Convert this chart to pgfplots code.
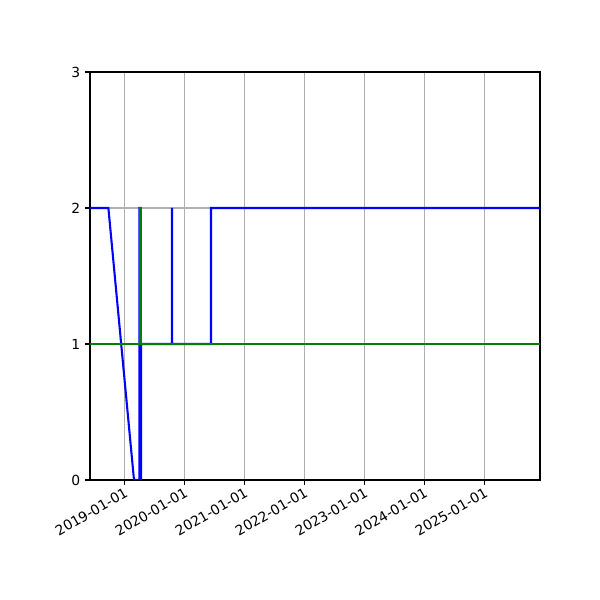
\documentclass[border=0pt]{standalone}
\usepackage{fontspec}
\setmainfont{DejaVu Sans}
\usepackage{pgfplots}
\pgfplotsset{compat=1.18}
\definecolor{mplblue}{rgb}{0,0,1}
\definecolor{mplgreen}{rgb}{0,0.5,0}
\definecolor{gridgray}{RGB}{176,176,176}

% x values are days counted from 2019-01-01
\begin{document}
\begin{tikzpicture}
\begin{axis}[
    scale only axis,
    width=324pt, height=293.76pt,
    xmin=-209, xmax=2532,
    ymin=0, ymax=3,
    ytick={0,1,2,3},
    xtick={0,365,731,1096,1461,1826,2192},
    xticklabels={2019-01-01,2020-01-01,2021-01-01,2022-01-01,2023-01-01,2024-01-01,2025-01-01},
    x tick label style={rotate=30, anchor=north east, inner sep=1pt},
    tick align=outside,
    xtick pos=bottom, ytick pos=left,
    major tick length=3.5pt,
    tick style={black, line width=0.8pt},
    axis line style={line width=0.8pt},
    grid=major,
    grid style={gridgray, line width=0.8pt},
    tick label style={font=\fontsize{10}{12}\selectfont},
    /pgf/number format/assume math mode=true,
]
\addplot[mplblue, line width=1.5pt] coordinates {
  (-209,2) (-97,2) (59,0) (92.5,0) (92.5,2) (98.5,2) (98.5,0) (101.5,0) (101.5,1)
  (290.5,1) (290.5,2) (290.5,1) (528,1) (528,2) (2532,2)
};
\addplot[mplgreen, line width=1.5pt] coordinates {
  (-209,1) (98.5,1) (98.5,2) (100,2) (100,1) (2532,1)
};
\end{axis}
\path ([xshift=-64.8pt,yshift=-86.4pt]current axis.south west)
      rectangle ([xshift=43.2pt,yshift=51.84pt]current axis.north east);
\end{tikzpicture}
\end{document}
